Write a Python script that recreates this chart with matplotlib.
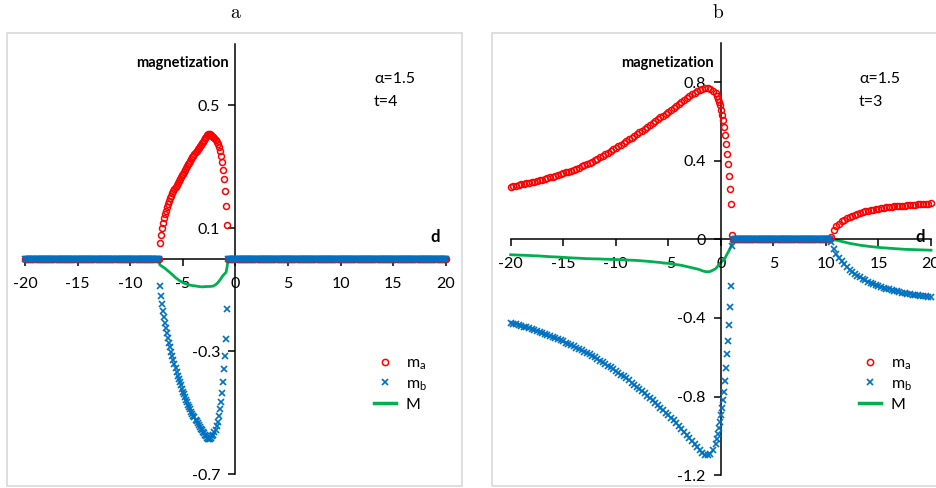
import numpy as np
import matplotlib.pyplot as plt
from matplotlib.patches import Rectangle
from matplotlib.lines import Line2D

W, H = 937, 488
plt.rcParams['font.family'] = ['Lato', 'DejaVu Sans']

RED = '#ff0000'
BLUE = '#0070c0'
GREEN = '#00b050'

# ---- panel a: alpha=1.5, t=4 ----
# sublattice magnetizations are non-zero only for -7.2 <= d <= -0.8 (step 0.1)
a_ma = [0.050, 0.078, 0.100, 0.117, 0.132, 0.146, 0.157, 0.168, 0.178, 0.188,
        0.197, 0.205, 0.213, 0.220, 0.227, 0.234, 0.240, 0.247, 0.253, 0.259,
        0.265, 0.271, 0.277, 0.283, 0.289, 0.295, 0.301, 0.307, 0.313, 0.319,
        0.324, 0.330, 0.335, 0.341, 0.346, 0.351, 0.356, 0.361, 0.366, 0.371,
        0.376, 0.380, 0.387, 0.392, 0.397, 0.402, 0.405, 0.406, 0.405, 0.403,
        0.400, 0.396, 0.392, 0.387, 0.381, 0.373, 0.363, 0.350, 0.335, 0.315,
        0.290, 0.258, 0.220, 0.172, 0.110]
a_mb = [-0.088, -0.122, -0.148, -0.170, -0.190, -0.208, -0.225, -0.242, -0.258, -0.273,
        -0.288, -0.302, -0.316, -0.330, -0.343, -0.356, -0.368, -0.380, -0.391, -0.402,
        -0.412, -0.422, -0.432, -0.441, -0.450, -0.459, -0.467, -0.475, -0.483, -0.490,
        -0.497, -0.504, -0.510, -0.516, -0.523, -0.529, -0.535, -0.541, -0.547, -0.553,
        -0.558, -0.563, -0.568, -0.573, -0.578, -0.582, -0.585, -0.586, -0.585, -0.582,
        -0.578, -0.573, -0.565, -0.556, -0.544, -0.530, -0.512, -0.490, -0.465, -0.435,
        -0.400, -0.360, -0.315, -0.260, -0.164]

# ---- panel b: alpha=1.5, t=3 ----
# d from -20 to -0.5 (step 0.25)
b_ma_left = [0.268, 0.271, 0.273, 0.276, 0.279, 0.282, 0.285, 0.288, 0.291, 0.294,
             0.298, 0.301, 0.304, 0.308, 0.311, 0.315, 0.319, 0.323, 0.327, 0.332,
             0.336, 0.341, 0.345, 0.350, 0.355, 0.360, 0.365, 0.371, 0.376, 0.382,
             0.389, 0.395, 0.402, 0.409, 0.417, 0.424, 0.432, 0.440, 0.448, 0.457,
             0.465, 0.473, 0.482, 0.490, 0.499, 0.508, 0.517, 0.526, 0.535, 0.544,
             0.553, 0.563, 0.572, 0.582, 0.591, 0.601, 0.611, 0.621, 0.630, 0.640,
             0.650, 0.660, 0.670, 0.680, 0.690, 0.700, 0.709, 0.719, 0.728, 0.737,
             0.745, 0.753, 0.760, 0.766, 0.770, 0.769, 0.765, 0.756, 0.742]
b_mb_left = [-0.425, -0.429, -0.432, -0.436, -0.440, -0.444, -0.448, -0.453, -0.457, -0.462,
             -0.466, -0.471, -0.476, -0.481, -0.486, -0.492, -0.497, -0.503, -0.508, -0.514,
             -0.520, -0.526, -0.532, -0.539, -0.545, -0.552, -0.558, -0.565, -0.572, -0.579,
             -0.586, -0.594, -0.601, -0.609, -0.617, -0.626, -0.634, -0.643, -0.652, -0.661,
             -0.670, -0.679, -0.689, -0.698, -0.708, -0.718, -0.729, -0.739, -0.750, -0.761,
             -0.773, -0.784, -0.796, -0.808, -0.820, -0.833, -0.845, -0.857, -0.870, -0.882,
             -0.895, -0.909, -0.922, -0.936, -0.950, -0.965, -0.980, -0.995, -1.010, -1.025,
             -1.040, -1.055, -1.070, -1.087, -1.098, -1.100, -1.092, -1.070, -1.042]
# d from -0.4 to 1.1 (step 0.1), the steep drop to the disordered phase
b_ma_steep = [0.728, 0.716, 0.700, 0.683, 0.660, 0.635, 0.605, 0.572, 0.530, 0.487,
              0.436, 0.385, 0.322, 0.254, 0.178, 0.023]
b_mb_steep = [-1.015, -0.990, -0.960, -0.930, -0.895, -0.860, -0.820, -0.776, -0.720, -0.656,
              -0.585, -0.516, -0.434, -0.346, -0.238, -0.034]
# d from 10.5 to 20 (step 0.25)
b_ma_right = [0.013, 0.045, 0.066, 0.080, 0.091, 0.100, 0.107, 0.114, 0.120, 0.125,
              0.130, 0.134, 0.138, 0.142, 0.145, 0.148, 0.151, 0.153, 0.156, 0.158,
              0.160, 0.162, 0.164, 0.165, 0.167, 0.168, 0.170, 0.171, 0.172, 0.173,
              0.175, 0.176, 0.177, 0.178, 0.179, 0.180, 0.181, 0.182, 0.183]
b_mb_right = [-0.012, -0.050, -0.075, -0.095, -0.112, -0.128, -0.142, -0.155, -0.166, -0.176,
              -0.186, -0.194, -0.202, -0.209, -0.216, -0.222, -0.228, -0.233, -0.238, -0.243,
              -0.247, -0.251, -0.255, -0.259, -0.262, -0.265, -0.268, -0.271, -0.274, -0.276,
              -0.279, -0.281, -0.283, -0.285, -0.287, -0.289, -0.291, -0.292, -0.294]

# d grids
a_d_left0 = np.round(np.arange(-20, -7.25, 0.1), 2)
a_d_mid = np.round(np.arange(-7.2, -0.75, 0.1), 2)
a_d_right0 = np.round(np.arange(-0.7, 20.05, 0.1), 2)

b_d_left = np.arange(-20, -0.4, 0.25)
b_d_steep = np.round(np.arange(-0.4, 1.15, 0.1), 2)
b_d_zero = np.round(np.arange(1.2, 10.45, 0.1), 2)
b_d_right = np.arange(10.5, 20.01, 0.25)

a_d = np.concatenate([a_d_left0, a_d_mid, a_d_right0])
a_ma_all = np.concatenate([np.zeros(len(a_d_left0)), a_ma, np.zeros(len(a_d_right0))])
a_mb_all = np.concatenate([np.zeros(len(a_d_left0)), a_mb, np.zeros(len(a_d_right0))])

b_d = np.concatenate([b_d_left, b_d_steep, b_d_zero, b_d_right])
b_ma_all = np.concatenate([b_ma_left, b_ma_steep, np.zeros(len(b_d_zero)), b_ma_right])
b_mb_all = np.concatenate([b_mb_left, b_mb_steep, np.zeros(len(b_d_zero)), b_mb_right])


def px(x, y):
    return x / W, 1 - y / H


fig = plt.figure(figsize=(W / 100, H / 100), dpi=100)
fig.patch.set_facecolor('white')

# light grey chart-area frames
fig.add_artist(Rectangle(px(7, 486), 455 / W, 453 / H, transform=fig.transFigure,
                         fill=False, ec='#d9d9d9', lw=1.2))
fig.add_artist(Rectangle(px(492, 486), 460 / W, 453 / H, transform=fig.transFigure,
                         fill=False, ec='#d9d9d9', lw=1.2))


def draw(rect, d, ma, mb, ylim, yticks, ylabels):
    ax = fig.add_axes(rect)
    ax.patch.set_alpha(0)
    M = (np.asarray(ma) + np.asarray(mb)) / 2
    ax.plot(d, M, color=GREEN, lw=2, zorder=2, clip_on=False)
    ax.plot(d, ma, 'o', mfc='none', mec=RED, ms=4.3, mew=1.1, zorder=3, clip_on=False)
    ax.plot(d, mb, 'x', color=BLUE, ms=4.2, mew=1.2, zorder=4, clip_on=False)
    ax.set_xlim(-20, 20)
    ax.set_ylim(*ylim)
    for s in ['top', 'right']:
        ax.spines[s].set_visible(False)
    ax.spines['left'].set_position(('data', 0))
    ax.spines['bottom'].set_position(('data', 0))
    for s in ['left', 'bottom']:
        ax.spines[s].set_linewidth(1.1)
    ax.set_xticks(range(-20, 21, 5))
    ax.set_xticklabels([str(v) for v in range(-20, 21, 5)])
    ax.set_yticks(yticks)
    ax.set_yticklabels(ylabels)
    ax.tick_params(axis='x', direction='out', length=5, width=1.1, pad=8, labelsize=11.5)
    ax.tick_params(axis='y', direction='out', length=5, width=1.1, pad=6, labelsize=11.5)
    return ax


ax_a = draw([25 / W, 1 - 474 / H, 421 / W, 430.4 / H], a_d, a_ma_all, a_mb_all,
            (-0.7, 0.7), [-0.7, -0.3, 0.1, 0.5], ['-0.7', '-0.3', '0.1', '0.5'])
ax_b = draw([510.7 / W, 1 - 475.1 / H, 420.3 / W, 432.3 / H], b_d, b_ma_all, b_mb_all,
            (-1.2, 1.0), [-1.2, -0.8, -0.4, 0, 0.4, 0.8],
            ['-1.2', '-0.8', '-0.4', '0', '0.4', '0.8'])

# titles, axis names and parameters
for x, s in [(235, 'a'), (718, 'b')]:
    fig.text(*px(x, 13), s, family='cmr10', fontsize=14, ha='center', va='center')
for x in [182, 667]:
    fig.text(*px(x, 63), 'magnetization', fontsize=10.5, fontweight='bold',
             ha='center', va='center')
for x in [435, 920]:
    fig.text(*px(x, 237), 'd', fontsize=12, fontweight='bold', ha='center', va='center')
for x, t in [(374, 't=4'), (859, 't=3')]:
    fig.text(*px(x, 79), 'α=1.5', fontsize=11.5, ha='left', va='center')
    fig.text(*px(x, 102), t, fontsize=11.5, ha='left', va='center')

handles = [Line2D([], [], ls='none', marker='o', mfc='none', mec=RED, ms=4.5, mew=1.1),
           Line2D([], [], ls='none', marker='x', color=BLUE, ms=4.3, mew=1.2),
           Line2D([], [], color=GREEN, lw=2.5)]
labels = [r'm$_\mathregular{a}$', r'm$_\mathregular{b}$', 'M']
for ax, x0 in [(ax_a, 374), (ax_b, 859)]:
    ax.legend(handles, labels, loc='upper left', bbox_to_anchor=px(x0, 356),
              bbox_transform=fig.transFigure, frameon=False, fontsize=11.5,
              handlelength=1.4, handletextpad=0.6, labelspacing=0.3,
              borderpad=0, borderaxespad=0)

fig.savefig('out.png', dpi=100)
